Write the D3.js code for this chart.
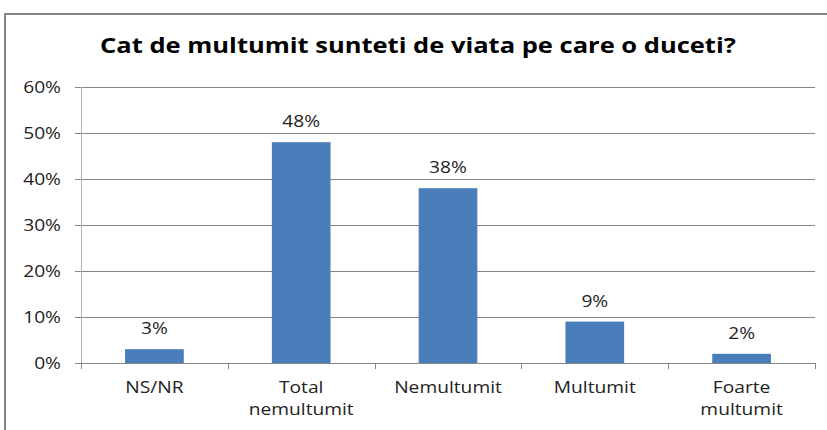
<!DOCTYPE html>
<html>
<head>
<meta charset="utf-8">
<script src="https://cdn.jsdelivr.net/npm/d3@7"></script>
<style>
  body { margin: 0; background: #fff; }
  text { font-family: "Open Sans", "Liberation Sans", sans-serif; fill: #222; }
</style>
</head>
<body>
<div id="chart"></div>
<script>
var categories = [["NS/NR"], ["Total", "nemultumit"], ["Nemultumit"], ["Multumit"], ["Foarte", "multumit"]],
    values = [3, 48, 38, 9, 2],
    yTicks = [0, 10, 20, 30, 40, 50, 60];

var width = 827,
    height = 430,
    margin = {top: 87, right: 12, bottom: 67, left: 81},
    stretch = 1.13;

var svg = d3.select("#chart")
  .append("svg")
  .attr("width", width)
  .attr("height", height);

// chart frame
svg.append("rect")
  .attr("x", 5).attr("y", 14)
  .attr("width", 840).attr("height", 440)
  .attr("fill", "none")
  .attr("stroke", "#868686")
  .attr("stroke-width", 2);

// put a text at (px,py), stretched horizontally like the original
function label(sel, px, py, sx) {
  return sel.append("g")
    .attr("transform", "translate(" + px + "," + py + ") scale(" + sx + ",1)")
    .append("text");
}

// title
label(svg, 418, 53, 1.16)
  .attr("text-anchor", "middle")
  .style("font-size", "22px")
  .style("font-weight", "bold")
  .style("fill", "#000")
  .text("Cat de multumit sunteti de viata pe care o duceti?");

var x = d3.scaleBand()
  .domain(d3.range(values.length))
  .range([margin.left, width - margin.right])
  .paddingInner(0.6)
  .paddingOuter(0.3);

var xOuter = d3.scaleBand()
  .domain(d3.range(values.length))
  .range([margin.left, width - margin.right]);

var y = d3.scaleLinear()
  .domain([0, 60])
  .range([height - margin.bottom, margin.top]);

// gridlines
svg.append("g")
  .selectAll("line")
  .data(yTicks)
  .enter()
  .append("line")
  .attr("x1", margin.left - 6)
  .attr("x2", width - margin.right)
  .attr("y1", d => Math.round(y(d)) + 0.5)
  .attr("y2", d => Math.round(y(d)) + 0.5)
  .attr("stroke", "#868686")
  .attr("stroke-width", 1);

// y labels
yTicks.forEach(function(d) {
  label(svg, margin.left - 20, y(d) + 6, stretch)
    .attr("text-anchor", "end")
    .style("font-size", "17px")
    .text(d + "%");
});

// y axis line
svg.append("line")
  .attr("x1", margin.left + 0.5).attr("x2", margin.left + 0.5)
  .attr("y1", y(60)).attr("y2", y(0))
  .attr("stroke", "#b3b3b3");

// category ticks
svg.append("g")
  .selectAll("line")
  .data(d3.range(values.length + 1))
  .enter()
  .append("line")
  .attr("x1", d => Math.round(margin.left + d * xOuter.bandwidth()) + 0.5)
  .attr("x2", d => Math.round(margin.left + d * xOuter.bandwidth()) + 0.5)
  .attr("y1", y(0))
  .attr("y2", y(0) + 6)
  .attr("stroke", "#868686");

// bars
svg.append("g")
  .selectAll("rect")
  .data(values)
  .enter()
  .append("rect")
  .attr("x", (d, i) => x(i))
  .attr("y", d => y(d))
  .attr("width", x.bandwidth())
  .attr("height", d => y(0) - y(d))
  .attr("fill", "#4a7ebb");

// value labels
values.forEach(function(d, i) {
  label(svg, x(i) + x.bandwidth() / 2, y(d) - 15, stretch)
    .attr("text-anchor", "middle")
    .style("font-size", "17px")
    .text(d + "%");
});

// category labels
categories.forEach(function(lines, i) {
  var t = label(svg, xOuter(i) + xOuter.bandwidth() / 2, y(0) + 30, stretch)
    .attr("text-anchor", "middle")
    .style("font-size", "17px");
  lines.forEach(function(s, j) {
    t.append("tspan")
      .attr("x", 0)
      .attr("dy", j === 0 ? 0 : 22)
      .text(s);
  });
});
</script>
</body>
</html>
